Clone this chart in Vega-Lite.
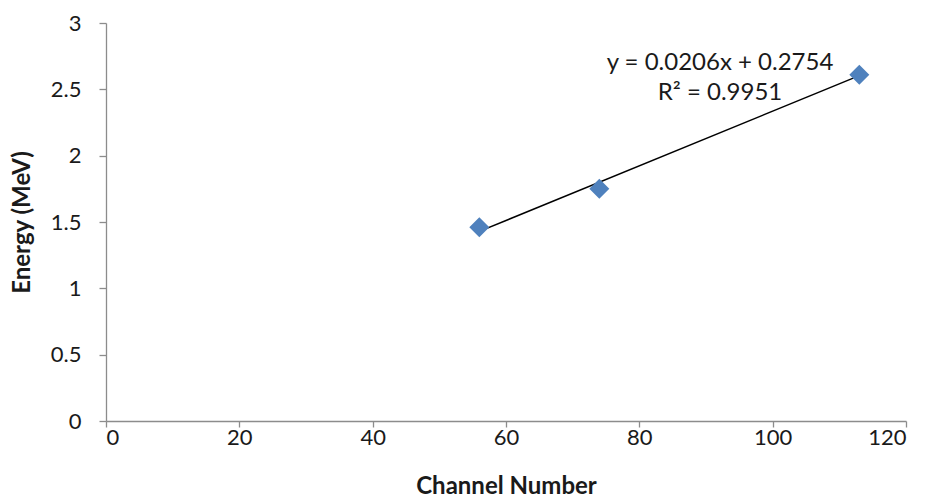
{
  "$schema": "https://vega.github.io/schema/vega-lite/v6.json",
  "width": 800,
  "height": 398,
  "autosize": "none",
  "padding": {"left": 106, "top": 23, "right": 23, "bottom": 79},
  "background": "white",
  "config": {
    "view": {"stroke": null},
    "font": "Lato",
    "axis": {
      "grid": false,
      "domainColor": "#8c8c8c",
      "tickColor": "#8c8c8c",
      "domainWidth": 1.3,
      "tickWidth": 1.3,
      "tickSize": 7,
      "labelFont": "Lato",
      "labelFontSize": 22,
      "labelColor": "#1a1a1a",
      "titleFont": "Lato",
      "titleFontSize": 24,
      "titleFontWeight": "bold",
      "titleColor": "#1a1a1a"
    }
  },
  "datasets": {
    "points": [
      {"channel": 56, "energy": 1.46},
      {"channel": 74, "energy": 1.75},
      {"channel": 113, "energy": 2.61}
    ],
    "trend": [
      {"channel": 56, "energy": 1.429},
      {"channel": 113, "energy": 2.603}
    ],
    "labels": [
      {"channel": 92.1, "energy": 2.70, "text": "y = 0.0206x + 0.2754"},
      {"channel": 92.1, "energy": 2.475, "text": "R² = 0.9951"}
    ]
  },
  "layer": [
    {
      "data": {"name": "trend"},
      "mark": {"type": "line", "color": "black", "strokeWidth": 1.5},
      "encoding": {
        "x": {"field": "channel", "type": "quantitative", "scale": {"domain": [0, 120], "nice": false}, "axis": {"values": [0, 20, 40, 60, 80, 100, 120], "title": "Channel Number", "tickSize": 6, "labelPadding": 0, "titlePadding": 26}},
        "y": {"field": "energy", "type": "quantitative", "scale": {"domain": [0, 3], "nice": false}, "axis": {"values": [0, 0.5, 1, 1.5, 2, 2.5, 3], "format": "~g", "title": "Energy (MeV)", "labelPadding": 18, "titlePadding": 16}}
      }
    },
    {
      "data": {"name": "points"},
      "mark": {"type": "point", "shape": "diamond", "filled": true, "color": "#4f81bd", "opacity": 1, "size": 400},
      "encoding": {
        "x": {"field": "channel", "type": "quantitative"},
        "y": {"field": "energy", "type": "quantitative"}
      }
    },
    {
      "data": {"name": "labels"},
      "mark": {"type": "text", "font": "Lato", "fontSize": 24, "color": "#1a1a1a", "align": "center", "baseline": "middle"},
      "encoding": {
        "x": {"field": "channel", "type": "quantitative"},
        "y": {"field": "energy", "type": "quantitative"},
        "text": {"field": "text"}
      }
    }
  ]
}
